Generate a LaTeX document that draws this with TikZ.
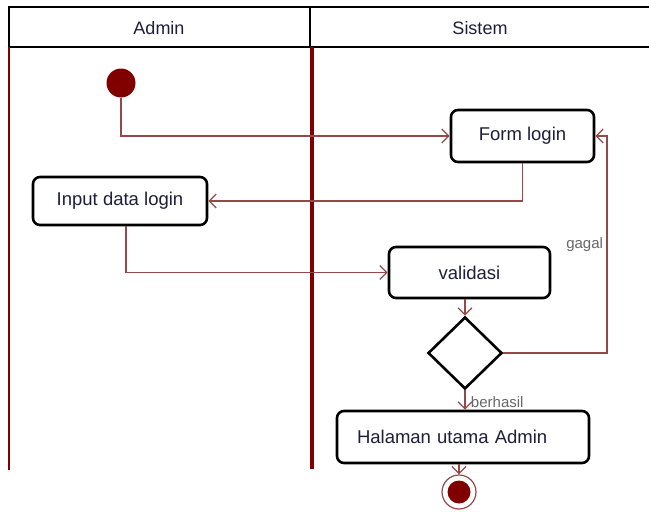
\documentclass[tikz,border=0pt]{standalone}
\usepackage{fontspec}
\setmainfont{Liberation Sans}
\usepackage{tikz}
\usetikzlibrary{arrows.meta,shapes,positioning}
\definecolor{lane}{RGB}{128,0,0}
\definecolor{flow}{RGB}{150,72,72}
\definecolor{ink}{RGB}{30,30,60}

\begin{document}
\begin{tikzpicture}[x=1pt, y=-1pt,
	act/.style={fill=white, draw=black, line width=2.6pt, rounded corners=7pt, text=ink, font=\fontsize{18.5}{21}\selectfont},
	flowline/.style={draw=flow, line width=1.3pt, -{Straight Barb[length=7pt,width=14pt]}},
	guard/.style={text=black!60, font=\fontsize{15}{18}\selectfont}]
	\useasboundingbox (0,0) rectangle (649,514);
	% swimlanes
	\draw [line width=2.5pt] (649,7) -- (9,7) -- (9,47) -- (649,47);
	\draw [line width=2.5pt] (310,7) -- (310,47);
	\node [text=ink, font=\fontsize{18}{21}\selectfont] (a) at (159,28) {Admin};
	\node [text=ink, font=\fontsize{18}{21}\selectfont] (s) at (480,28) {Sistem};
	\draw [draw=lane, line width=2.4pt] (9,47) -- (9,470);
	\draw [draw=lane, line width=4pt] (312,47) -- (312,469);
	% nodes
	\node [fill=lane, draw=none, shape=circle, minimum size=29pt, inner sep=0pt] (0) at (121,83) {};
	\node [act, minimum width=143pt, minimum height=52pt] (1) at (522.5,136) {Form login};
	\node [act, minimum width=174pt, minimum height=48pt] (2) at (120,201) {Input data login};
	\node [act, minimum width=161pt, minimum height=51pt] (3) at (469.5,272.5) {validasi};
	\node [fill=white, draw=black, line width=2.6pt, shape=diamond, minimum width=74pt, minimum height=72pt, inner sep=0pt] (4) at (465,353) {};
	\node [act, minimum height=52pt, text width=212pt, inner xsep=20pt, align=left] (5) at (463,437) {Halaman utama Admin};
	\node [fill=white, draw=flow, line width=1.2pt, shape=circle, minimum size=34pt, inner sep=0pt] (6) at (459,492) {};
	\node [fill=lane, draw=none, shape=circle, minimum size=23pt, inner sep=0pt] (7) at (6) {};
	% flows
	\draw [flowline] (0) |- (1);
	\draw [flowline] (1) |- (2);
	\draw [flowline] ([xshift=6pt]2.south) |- (3);
	\draw [flowline] (4.north |- 3.south) -- (4);
	\draw [flowline] (4.east) -- (607,353) |- (1.east) node [guard, pos=0.25, left] {gagal};
	\draw [flowline] (4.south) -- (4.south |- 5.north) node [guard, pos=0.6, right, xshift=2pt] {berhasil};
	\draw [flowline] (6 |- 5.south) -- (6);
\end{tikzpicture}
\end{document}
